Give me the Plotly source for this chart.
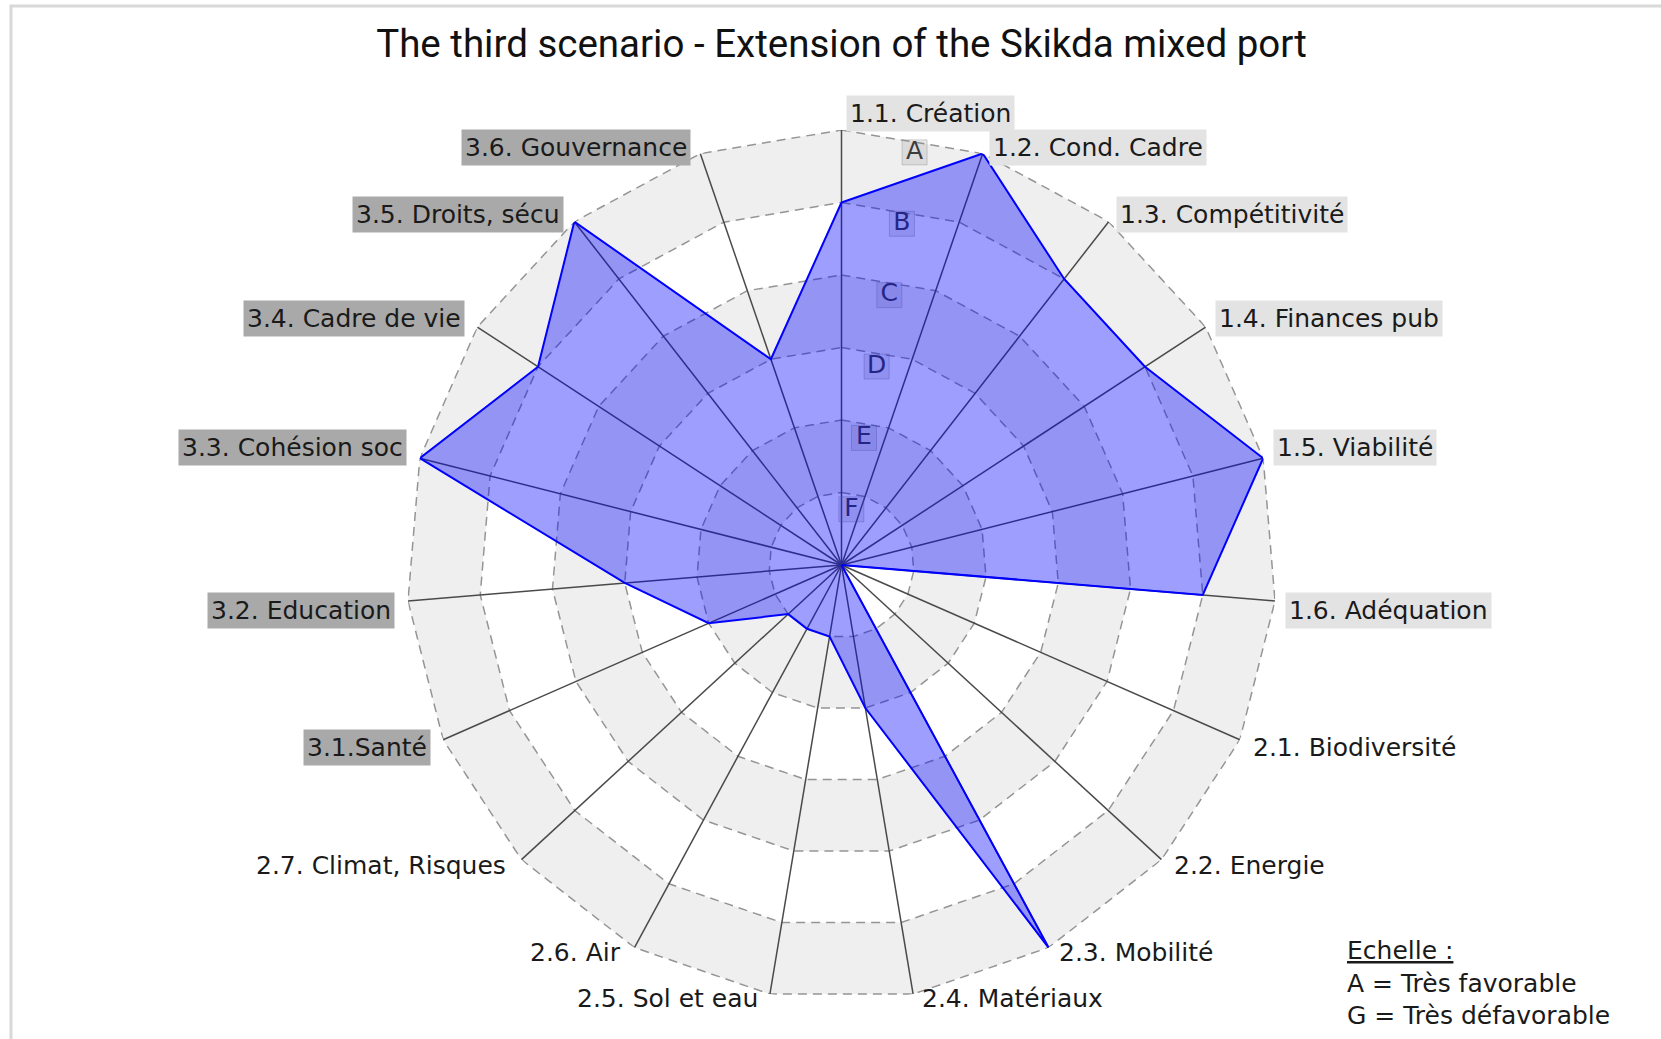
import math
import plotly.graph_objects as go

# ---- data -------------------------------------------------------------
categories = [
    "1.1. Création", "1.2. Cond. Cadre", "1.3. Compétitivité", "1.4. Finances pub",
    "1.5. Viabilité", "1.6. Adéquation", "2.1. Biodiversité", "2.2. Energie",
    "2.3. Mobilité", "2.4. Matériaux", "2.5. Sol et eau", "2.6. Air",
    "2.7. Climat, Risques", "3.1.Santé", "3.2. Education", "3.3. Cohésion soc",
    "3.4. Cadre de vie", "3.5. Droits, sécu", "3.6. Gouvernance",
]
grades = ["B", "A", "B", "B", "A", "B", "G", "G", "A", "E",
          "F", "F", "F", "E", "D", "A", "B", "A", "D"]
# grade scale from the centre (G, very unfavourable) to the rim (A, very favourable)
scale_letters = ["G", "F", "E", "D", "C", "B", "A"]
title_text = "The third scenario - Extension of the Skikda mixed port"
scale_note = ["Echelle :", "A = Très favorable", "G = Très défavorable"]

values = [scale_letters.index(g) for g in grades]
levels = list(range(1, len(scale_letters)))          # ring levels 1..6
r_max = len(scale_letters) - 1

# ---- layout geometry ----------------------------------------------------
W, H = 1661, 1039
CX, CY, R = 841.5, 565.0, 435.0                      # polar centre / radius (px)
n = len(categories)
step = 360.0 / n
angles = [i * step for i in range(n)]

FONT = "DejaVu Sans, Verdana, sans-serif"
LABEL_SIZE = 25

fig = go.Figure()

# alternating background bands (outer band grey)
for lv in sorted(levels, reverse=True):
    fig.add_trace(go.Scatterpolar(
        r=[lv] * (n + 1), theta=angles + [angles[0]],
        mode="lines", fill="toself",
        fillcolor="#efefef" if (r_max - lv) % 2 == 0 else "#ffffff",
        line=dict(width=0), hoverinfo="skip",
    ))

# dashed polygonal grid rings
for lv in levels:
    fig.add_trace(go.Scatterpolar(
        r=[lv] * (n + 1), theta=angles + [angles[0]],
        mode="lines", line=dict(color="#959595", width=1.5, dash="9px,6px"),
        hoverinfo="skip",
    ))

# spokes
sr, st = [], []
for a in angles:
    sr += [0, r_max, None]
    st += [a, a, None]
fig.add_trace(go.Scatterpolar(
    r=sr, theta=st, mode="lines",
    line=dict(color="#4a4a4a", width=1.5), hoverinfo="skip",
))

# grade letters along the first sector
letter_lv = levels
fig.add_trace(go.Scatterpolar(
    r=[lv - 0.22 for lv in letter_lv],
    theta=[step * 0.53] * len(letter_lv),
    mode="markers+text",
    text=[scale_letters[lv] for lv in letter_lv],
    textposition="middle center",
    textfont=dict(family=FONT, size=LABEL_SIZE, color="#3c3c3c"),
    marker=dict(symbol="square", size=25, color="rgba(128,128,128,0.18)",
                line=dict(color="rgba(128,128,128,0.35)", width=1)),
    hoverinfo="skip", cliponaxis=False,
))

# scenario polygon
fig.add_trace(go.Scatterpolar(
    r=values + [values[0]], theta=angles + [angles[0]],
    mode="lines", fill="toself",
    fillcolor="rgba(0,0,255,0.38)",
    line=dict(color="#0000ff", width=2),
    text=[f"{c} : {g}" for c, g in zip(categories, grades)] + [""],
    hoverinfo="text",
))

# ---- category labels ----------------------------------------------------
box_colors = {"1": "#e3e3e3", "2": None, "3": "#a9a9a9"}
annotations = []
for i, name in enumerate(categories):
    th = math.radians(angles[i])
    s, c = math.sin(th), math.cos(th)
    ax_ = CX + (R + 6) * s
    ay_ = CY - (R - 6) * c
    if abs(s) < 1e-9:
        xanchor, x = "left", CX + 5
        yc = ay_ - 23
    else:
        if s > 0:
            xanchor, x = "left", ax_ + 4
        else:
            xanchor, x = "right", ax_ - 7
        yc = ay_ - 12 if c > 0 else ay_ + 10
    bg = box_colors[name[0]]
    annotations.append(dict(
        text=name, xref="paper", yref="paper",
        x=x / W, y=1 - yc / H, xanchor=xanchor, yanchor="middle",
        showarrow=False, borderpad=3,
        bgcolor=bg if bg else "rgba(0,0,0,0)",
        font=dict(family=FONT, size=LABEL_SIZE, color="#1a1a1a"),
    ))

# scale legend
annotations.append(dict(
    text=f"<u>{scale_note[0]}</u><br>{scale_note[1]}<br>{scale_note[2]}",
    xref="paper", yref="paper", x=1345 / W, y=1 - 983 / H,
    xanchor="left", yanchor="middle", align="left", showarrow=False,
    font=dict(family=FONT, size=25, color="#1a1a1a"),
))

fig.update_layout(
    width=W, height=H,
    margin=dict(l=0, r=0, t=0, b=0),
    paper_bgcolor="#ffffff",
    showlegend=False,
    title=dict(
        text=title_text, x=CX / W, xanchor="center",
        y=1 - 44 / H, yanchor="middle",
        font=dict(family="Roboto, Liberation Sans, sans-serif", size=38.5, color="#111111"),
    ),
    polar=dict(
        domain=dict(x=[(CX - R) / W, (CX + R) / W],
                    y=[(H - CY - R) / H, (H - CY + R) / H]),
        bgcolor="rgba(0,0,0,0)",
        radialaxis=dict(range=[0, r_max], visible=False),
        angularaxis=dict(type="linear", thetaunit="degrees", rotation=90,
                         direction="clockwise", visible=False),
    ),
    annotations=annotations,
    shapes=[dict(type="rect", xref="paper", yref="paper",
                 x0=11 / W, x1=1.02, y0=-0.02, y1=1 - 6 / H,
                 line=dict(color="#d8d8d8", width=3), layer="below")],
)

fig.write_html("out.html")
